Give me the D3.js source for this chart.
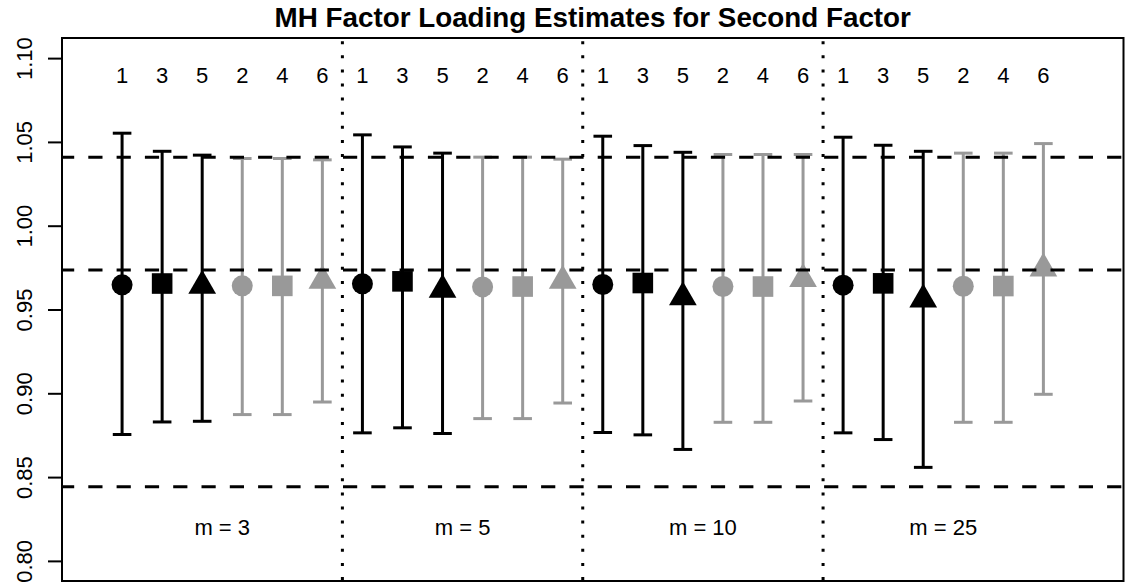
<!DOCTYPE html>
<html>
<head>
<meta charset="utf-8">
<script src="https://cdn.jsdelivr.net/npm/d3@7"></script>
<style>
  html, body { margin: 0; padding: 0; background: #fff; }
  svg { display: block; font-family: "Liberation Sans", Arial, Helvetica, sans-serif; }
</style>
</head>
<body>
<svg id="chart" width="1137" height="586"></svg>
<script>
// ---------------- data ----------------
const title = "MH Factor Loading Estimates for Second Factor";
const groups = ["m = 3", "m = 5", "m = 10", "m = 25"];
const subsetLabels = ["1", "3", "5", "2", "4", "6"];

// point estimates per group (order of subsetLabels)
const estM3  = [0.9647, 0.9655, 0.9642, 0.9641, 0.9641, 0.9672];
const estM5  = [0.9653, 0.9668, 0.9618, 0.9635, 0.9637, 0.9672];
const estM10 = [0.9649, 0.9658, 0.9573, 0.9637, 0.9637, 0.9682];
const estM25 = [0.9645, 0.9656, 0.9559, 0.9639, 0.9640, 0.9745];

const lowM3  = [0.8754, 0.8829, 0.8833, 0.8873, 0.8873, 0.8948];
const lowM5  = [0.8764, 0.8794, 0.8760, 0.8849, 0.8849, 0.8942];
const lowM10 = [0.8766, 0.8752, 0.8665, 0.8827, 0.8827, 0.8954];
const lowM25 = [0.8764, 0.8724, 0.8558, 0.8827, 0.8827, 0.8994];

const highM3  = [1.0552, 1.0444, 1.0421, 1.0401, 1.0401, 1.0393];
const highM5  = [1.0542, 1.0470, 1.0433, 1.0409, 1.0409, 1.0397];
const highM10 = [1.0534, 1.0478, 1.0438, 1.0425, 1.0425, 1.0425];
const highM25 = [1.0528, 1.0480, 1.0444, 1.0433, 1.0433, 1.0490];

const refLines = [1.0408, 0.9735, 0.8443];
const yTicks = [0.80, 0.85, 0.90, 0.95, 1.00, 1.05, 1.10];

// ---------------- styles ----------------
const subsetShape = ["circle", "square", "triangle", "circle", "square", "triangle"];
const subsetColor = ["#000000", "#000000", "#000000", "#999999", "#999999", "#999999"];

const est = [estM3, estM5, estM10, estM25];
const low = [lowM3, lowM5, lowM10, lowM25];
const high = [highM3, highM5, highM10, highM25];

const rows = [];
groups.forEach((g, gi) => {
  subsetLabels.forEach((s, si) => {
    rows.push({ g: gi, s: si, pos: gi * 6 + si + 1, est: est[gi][si], lo: low[gi][si], hi: high[gi][si] });
  });
});

// ---------------- layout ----------------
const L = 62, R = 1123.5, T = 38, B = 581;
const x = d3.scaleLinear().domain([-0.5, 26]).range([L, R]);
const y = d3.scaleLinear().domain([0.788, 1.112]).range([B, T]);

const svg = d3.select("#chart");

// title
svg.append("text")
  .attr("x", (L + R) / 2).attr("y", 27)
  .attr("text-anchor", "middle")
  .style("font-weight", "bold").style("font-size", "27.8px")
  .text(title);

// y axis (left)
const yAxis = d3.axisLeft(y).tickValues(yTicks).tickFormat(d3.format(".2f")).tickSize(14).tickPadding(0);
const ga = svg.append("g").attr("transform", `translate(${L},0)`).call(yAxis);
ga.select(".domain").remove();
ga.selectAll(".tick line").attr("stroke", "#000").attr("stroke-width", 2);
ga.selectAll(".tick text")
  .attr("x", 0).attr("y", 0).attr("dy", 0)
  .attr("transform", "translate(-30,0) rotate(-90)")
  .attr("text-anchor", "middle")
  .style("font-size", "22px").style("font-family", "Liberation Sans, Arial, sans-serif")
  .attr("fill", "#000");

// error bars
const capHW = 9.3;
const bars = svg.append("g");
rows.forEach(r => {
  const cx = x(r.pos), col = subsetColor[r.s];
  bars.append("line").attr("x1", cx).attr("x2", cx).attr("y1", y(r.lo)).attr("y2", y(r.hi))
    .attr("stroke", col).attr("stroke-width", 3);
  [r.lo, r.hi].forEach(v => {
    bars.append("line").attr("x1", cx - capHW).attr("x2", cx + capHW).attr("y1", y(v)).attr("y2", y(v))
      .attr("stroke", col).attr("stroke-width", 3);
  });
});

// points
const pts = svg.append("g");
rows.forEach(r => {
  const cx = x(r.pos), cy = y(r.est), col = subsetColor[r.s], shp = subsetShape[r.s];
  if (shp === "circle") {
    pts.append("circle").attr("cx", cx).attr("cy", cy).attr("r", 10.5).attr("fill", col);
  } else if (shp === "square") {
    const h = 10.3;
    pts.append("rect").attr("x", cx - h).attr("y", cy - h).attr("width", 2 * h).attr("height", 2 * h).attr("fill", col);
  } else {
    const rr = 10.3;
    const pts3 = [[cx, cy - 1.5551 * rr], [cx + 1.3468 * rr, cy + 0.7776 * rr], [cx - 1.3468 * rr, cy + 0.7776 * rr]];
    pts.append("polygon").attr("points", pts3.map(p => p.join(",")).join(" ")).attr("fill", col);
  }
});

// horizontal dashed reference lines
refLines.forEach(v => {
  svg.append("line").attr("x1", L).attr("x2", R).attr("y1", y(v)).attr("y2", y(v))
    .attr("stroke", "#000").attr("stroke-width", 3)
    .attr("stroke-dasharray", "14.2 14.1").attr("stroke-dashoffset", 2);
});

// vertical dotted group separators
[6.5, 12.5, 18.5].forEach(p => {
  svg.append("line").attr("x1", x(p)).attr("x2", x(p)).attr("y1", T).attr("y2", B)
    .attr("stroke", "#000").attr("stroke-width", 3)
    .attr("stroke-dasharray", "3 11.1").attr("stroke-dashoffset", 10.9);
});

// subset labels on top
rows.forEach(r => {
  svg.append("text").attr("x", x(r.pos)).attr("y", y(1.09)).attr("dy", "0.36em")
    .attr("text-anchor", "middle").style("font-size", "22px")
    .text(subsetLabels[r.s]);
});

// group labels at the bottom
groups.forEach((g, gi) => {
  svg.append("text").attr("x", x(gi * 6 + 3.5)).attr("y", y(0.82)).attr("dy", "0.36em")
    .attr("text-anchor", "middle").style("font-size", "22px")
    .text(g);
});

// plot box
svg.append("rect").attr("x", L).attr("y", T).attr("width", R - L).attr("height", B - T)
  .attr("fill", "none").attr("stroke", "#000").attr("stroke-width", 2);
</script>
</body>
</html>
